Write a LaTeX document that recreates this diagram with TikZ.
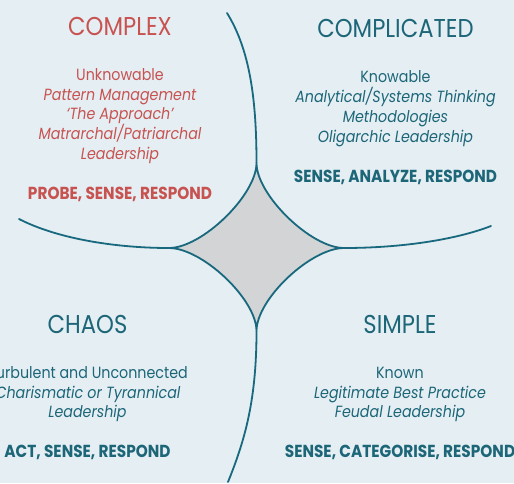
\documentclass[tikz,border=0pt]{standalone}
\usepackage{fontspec}
\setmainfont{Poppins}[FakeStretch=0.88]
\definecolor{bgc}{RGB}{228,238,243}
\definecolor{linec}{RGB}{24,104,126}
\definecolor{txtteal}{RGB}{28,102,120}
\definecolor{txtred}{RGB}{200,82,80}
\definecolor{starc}{RGB}{211,212,214}
\begin{document}
\begin{tikzpicture}[x=1pt,y=-1pt,
  hd/.style={anchor=base,inner sep=0pt,font=\fontsize{25.8}{26}\selectfont},
  bd/.style={anchor=base,inner sep=0pt,font=\fontsize{16.2}{17}\selectfont},
  itl/.style={anchor=base,inner sep=0pt,font=\fontsize{16.2}{17}\selectfont\itshape},
  bld/.style={anchor=base,inner sep=0pt,font=\fontsize{17.4}{18}\selectfont\bfseries},
  redt/.style={text=txtred},
  tealt/.style={text=txtteal},
  curve/.style={draw=linec,line width=1.8pt,line cap=round}]
\fill[bgc] (0,0) rectangle (514,483);
\useasboundingbox (0,0) rectangle (514,483);
% star tips
\coordinate (T) at (256.5,163);
\coordinate (R) at (344,248);
\coordinate (B) at (256.5,331);
\coordinate (L) at (169,248);
\coordinate (topend) at (227,13);
\coordinate (leftend) at (19,219);
\coordinate (rightend) at (491,226);
\coordinate (botend) at (228,482);
\path[fill=starc] (T) .. controls (256.5,195) and (311,248) .. (R)
  .. controls (311,248) and (256.5,299) .. (B)
  .. controls (256.5,299) and (202,248) .. (L)
  .. controls (202,248) and (256.5,195) .. (T) -- cycle;
\draw[curve] (T) .. controls (256.5,195) and (311,248) .. (R)
  .. controls (311,248) and (256.5,299) .. (B)
  .. controls (256.5,299) and (202,248) .. (L)
  .. controls (202,248) and (256.5,195) .. (T);
\draw[curve] (topend) .. controls (250,50) and (256.5,100) .. (T);
\draw[curve] (leftend) .. controls (60,240) and (120,248) .. (L);
\draw[curve] (R) .. controls (400,248) and (455,240) .. (rightend);
\draw[curve] (B) .. controls (256.5,400) and (245,440) .. (botend);
% COMPLEX
\node[hd,redt] (cx0) at (120,35) {COMPLEX};
\node[bd,redt] (cx1) at (120,80) {Unknowable};
\node[itl,redt] (cx2) at (120,100) {Pattern Management};
\node[itl,redt] (cx3) at (120,119.5) {‘The Approach’};
\node[itl,redt] (cx4) at (120,139) {Matrarchal/Patriarchal};
\node[itl,redt] (cx5) at (120,159) {Leadership};
\node[bld,redt] (cx6) at (120,199) {PROBE, SENSE, RESPOND};
% COMPLICATED
\node[hd,tealt] (cd0) at (395.5,37.5) {COMPLICATED};
\node[bd,tealt] (cd1) at (395.5,82) {Knowable};
\node[itl,tealt] (cd2) at (395.5,102) {Analytical/Systems Thinking};
\node[itl,tealt] (cd3) at (395.5,122) {Methodologies};
\node[itl,tealt] (cd4) at (395.5,142) {Oligarchic Leadership};
\node[bld,tealt] (cd5) at (395.5,182) {SENSE, ANALYZE, RESPOND};
% CHAOS
\node[hd,tealt] (ch0) at (87.5,333) {CHAOS};
\node[bd,tealt] (ch1) at (88,378) {Turbulent and Unconnected};
\node[itl,tealt] (ch2) at (88,398) {Charismatic or Tyrannical};
\node[itl,tealt] (ch3) at (87.5,417.5) {Leadership};
\node[bld,tealt] (ch4) at (87.5,457) {ACT, SENSE, RESPOND};
% SIMPLE
\node[hd,tealt] (sp0) at (400,333) {SIMPLE};
\node[bd,tealt] (sp1) at (400,378) {Known};
\node[itl,tealt] (sp2) at (400,398) {Legitimate Best Practice};
\node[itl,tealt] (sp3) at (400,417.5) {Feudal Leadership};
\node[bld,tealt] (sp4) at (400,457) {SENSE, CATEGORISE, RESPOND};
\end{tikzpicture}
\end{document}
